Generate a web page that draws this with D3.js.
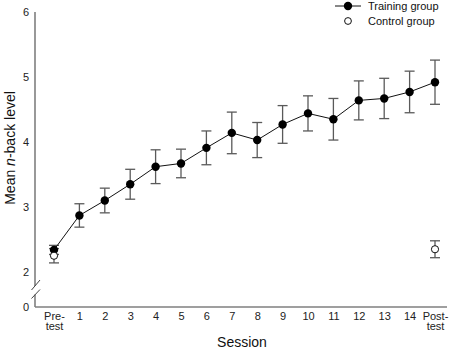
<!DOCTYPE html>
<html><head><meta charset="utf-8">
<script src="https://cdn.jsdelivr.net/npm/d3@7"></script>
<style>body{margin:0;background:#fff}svg{display:block;font-family:"Liberation Sans",Arial,sans-serif}</style>
</head><body><svg id="c" width="454" height="349"></svg>
<script>
const sessions = ["Pre-test","1","2","3","4","5","6","7","8","9","10","11","12","13","14","Post-test"];
const trainingMean = [2.34,2.87,3.10,3.35,3.62,3.67,3.91,4.14,4.03,4.27,4.44,4.35,4.64,4.67,4.77,4.92];
const trainingErr  = [0.07,0.18,0.19,0.23,0.26,0.22,0.26,0.32,0.27,0.29,0.27,0.32,0.30,0.31,0.32,0.34];
const controlSessions = ["Pre-test","Post-test"];
const controlMean = [2.25,2.35];
const controlErr  = [0.11,0.13];
const yTicks = [0,2,3,4,5,6];

const svg = d3.select("#c");
const x = d3.scalePoint().domain(sessions).range([54,435]);
const y = d3.scaleLinear().domain([0,2,6]).range([307,272,12]);
const axisCol = "#7f7f7f", errCol = "#5a5a5a";

// axes lines
svg.append("line").attr("x1",35).attr("x2",447).attr("y1",y(0)).attr("y2",y(0)).attr("stroke",axisCol).attr("stroke-width",1.6);
svg.append("line").attr("x1",35).attr("x2",35).attr("y1",y(6)).attr("y2",286).attr("stroke",axisCol).attr("stroke-width",1.6);
svg.append("line").attr("x1",35).attr("x2",35).attr("y1",294.5).attr("y2",y(0)).attr("stroke",axisCol).attr("stroke-width",1.6);
// break marks
[[290,280],[298.5,289.5]].forEach(([a,b])=>{
  svg.append("line").attr("x1",31.5).attr("y1",a).attr("x2",40).attr("y2",b).attr("stroke","#444").attr("stroke-width",1);
});

// y tick labels
const ya = d3.axisLeft(y).tickValues(yTicks).tickSize(0).tickPadding(6).tickFormat(d3.format("d"));
const yg = svg.append("g").attr("transform","translate(35,0)").call(ya);
yg.select(".domain").remove();
yg.selectAll("text").attr("font-size",11).attr("fill","#222").attr("font-family","Liberation Sans, Arial, sans-serif");

// x tick labels
const xa = d3.axisBottom(x).tickSize(0).tickPadding(5).tickFormat(()=>"");
const xg = svg.append("g").attr("transform",`translate(0,${y(0)})`).call(xa);
xg.select(".domain").remove();
xg.selectAll(".tick text").each(function(d){
  const t = d3.select(this).attr("font-size",11).attr("fill","#222").attr("font-family","Liberation Sans, Arial, sans-serif");
  const parts = d.indexOf("-")>0 ? [d.split("-")[0]+"-", d.split("-")[1]] : [d];
  parts.forEach((p,i)=>t.append("tspan").attr("x",0).attr("dy", i===0? "0.71em":"0.95em").text(p));
});

// axis titles
svg.append("text").attr("x",242).attr("y",347).attr("text-anchor","middle").attr("font-size",14).attr("fill","#111").text("Session");
const yl = svg.append("text").attr("transform","translate(15,148) rotate(-90)").attr("text-anchor","middle").attr("font-size",14).attr("fill","#111");
yl.append("tspan").text("Mean ");
yl.append("tspan").attr("font-style","italic").text("n");
yl.append("tspan").text("-back level");

// error bars
function errBars(keys, means, errs){
  keys.forEach((k,i)=>{
    const cx = x(k), top = y(means[i]+errs[i]), bot = y(means[i]-errs[i]);
    const g = svg.append("g").attr("stroke",errCol).attr("stroke-width",1.3);
    g.append("line").attr("x1",cx).attr("x2",cx).attr("y1",top).attr("y2",bot);
    g.append("line").attr("x1",cx-5).attr("x2",cx+5).attr("y1",top).attr("y2",top);
    g.append("line").attr("x1",cx-5).attr("x2",cx+5).attr("y1",bot).attr("y2",bot);
  });
}
errBars(sessions, trainingMean, trainingErr);
errBars(controlSessions, controlMean, controlErr);

// training line
svg.append("path").datum(sessions.map((s,i)=>[x(s),y(trainingMean[i])]))
  .attr("d",d3.line()).attr("fill","none").attr("stroke","#111").attr("stroke-width",1);
svg.selectAll(".tp").data(sessions).enter().append("circle")
  .attr("cx",d=>x(d)).attr("cy",(d,i)=>y(trainingMean[i])).attr("r",4.2).attr("fill","#000");
svg.selectAll(".cp").data(controlSessions).enter().append("circle")
  .attr("cx",d=>x(d)).attr("cy",(d,i)=>y(controlMean[i])).attr("r",3.6).attr("fill","#fff").attr("stroke","#111").attr("stroke-width",1);

// legend
svg.append("line").attr("x1",335).attr("x2",361).attr("y1",6).attr("y2",6).attr("stroke","#111").attr("stroke-width",1);
svg.append("circle").attr("cx",348).attr("cy",6).attr("r",4.2).attr("fill","#000");
svg.append("circle").attr("cx",348).attr("cy",21).attr("r",3.4).attr("fill","#fff").attr("stroke","#111");
svg.append("text").attr("x",368).attr("y",6).attr("dy","0.35em").attr("font-size",11).attr("fill","#111").text("Training group");
svg.append("text").attr("x",368).attr("y",21).attr("dy","0.35em").attr("font-size",11).attr("fill","#111").text("Control group");
</script></body></html>
